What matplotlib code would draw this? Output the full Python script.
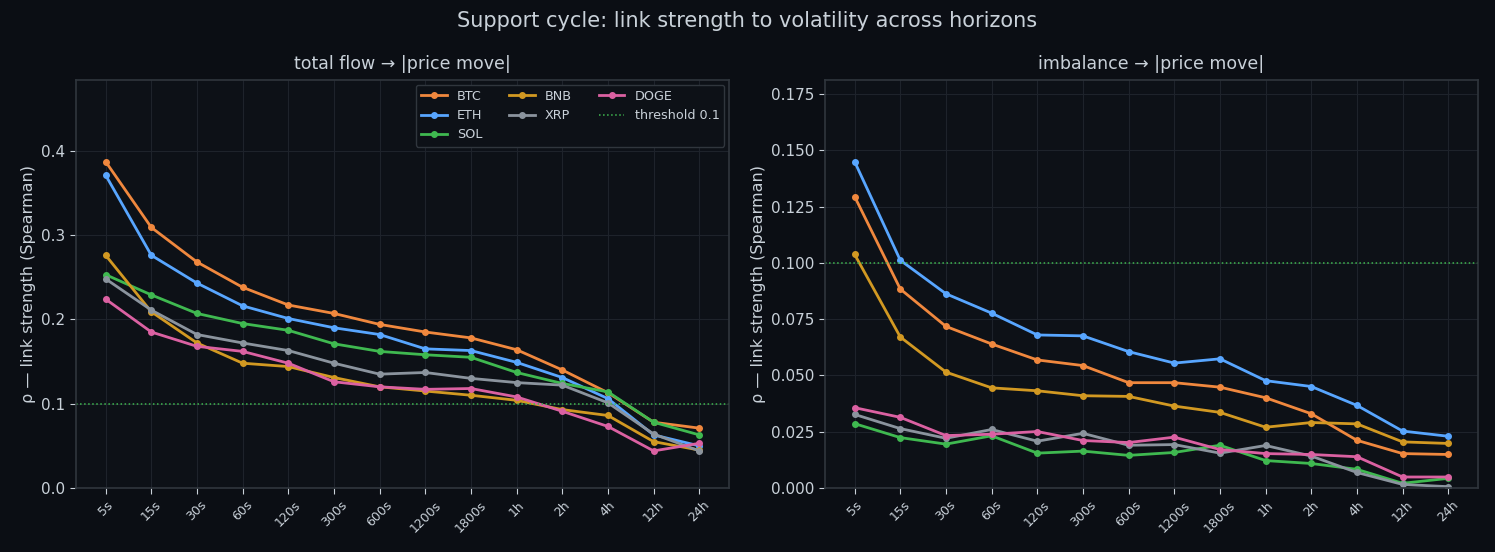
import matplotlib
matplotlib.use("Agg")
import matplotlib.pyplot as plt

horizons = ["5s", "15s", "30s", "60s", "120s", "300s", "600s", "1200s", "1800s", "1h", "2h", "4h", "12h", "24h"]
coins = ["BTC", "ETH", "SOL", "BNB", "XRP", "DOGE"]
colors = {"BTC": "#f0883e", "ETH": "#58a6ff", "SOL": "#3fb950", "BNB": "#d29922", "XRP": "#8b949e", "DOGE": "#db61a2"}

flow_btc = [0.387, 0.309, 0.268, 0.238, 0.217, 0.207, 0.194, 0.185, 0.178, 0.164, 0.140, 0.113, 0.078, 0.071]
flow_eth = [0.371, 0.276, 0.243, 0.216, 0.201, 0.190, 0.182, 0.165, 0.163, 0.149, 0.131, 0.106, 0.063, 0.050]
flow_sol = [0.253, 0.229, 0.207, 0.195, 0.187, 0.171, 0.162, 0.158, 0.155, 0.137, 0.124, 0.114, 0.078, 0.063]
flow_bnb = [0.276, 0.209, 0.172, 0.148, 0.144, 0.131, 0.120, 0.115, 0.110, 0.104, 0.093, 0.086, 0.055, 0.045]
flow_xrp = [0.248, 0.211, 0.182, 0.172, 0.163, 0.148, 0.135, 0.137, 0.130, 0.125, 0.122, 0.101, 0.064, 0.044]
flow_doge = [0.224, 0.185, 0.168, 0.162, 0.148, 0.126, 0.120, 0.117, 0.118, 0.108, 0.091, 0.073, 0.044, 0.053]

imb_btc = [0.1295, 0.0884, 0.0718, 0.0640, 0.0569, 0.0544, 0.0468, 0.0468, 0.0448, 0.0401, 0.0330, 0.0212, 0.0153, 0.0149]
imb_eth = [0.1450, 0.1012, 0.0863, 0.0777, 0.0680, 0.0676, 0.0606, 0.0555, 0.0574, 0.0477, 0.0451, 0.0367, 0.0253, 0.0230]
imb_sol = [0.0286, 0.0224, 0.0195, 0.0232, 0.0155, 0.0164, 0.0145, 0.0158, 0.0190, 0.0122, 0.0109, 0.0083, 0.0021, 0.0043]
imb_bnb = [0.1038, 0.0671, 0.0515, 0.0445, 0.0432, 0.0410, 0.0407, 0.0364, 0.0336, 0.0270, 0.0291, 0.0285, 0.0205, 0.0198]
imb_xrp = [0.0327, 0.0264, 0.0221, 0.0260, 0.0208, 0.0243, 0.0190, 0.0193, 0.0155, 0.0189, 0.0142, 0.0069, 0.0016, 0.0006]
imb_doge = [0.0357, 0.0314, 0.0233, 0.0239, 0.0251, 0.0211, 0.0202, 0.0226, 0.0171, 0.0153, 0.0149, 0.0139, 0.0049, 0.0049]

threshold = 0.1

flow = {"BTC": flow_btc, "ETH": flow_eth, "SOL": flow_sol, "BNB": flow_bnb, "XRP": flow_xrp, "DOGE": flow_doge}
imb = {"BTC": imb_btc, "ETH": imb_eth, "SOL": imb_sol, "BNB": imb_bnb, "XRP": imb_xrp, "DOGE": imb_doge}

BG = "#0b0e14"
AX_BG = "#0d1117"
TXT = "#c9d1d9"
GRID = "#1e232b"
SPINE = "#30363d"

fig = plt.figure(figsize=(14.95, 5.52), dpi=100, facecolor=BG)
ax1 = fig.add_axes([0.0508, 0.1159, 0.4368, 0.7391])
ax2 = fig.add_axes([0.5518, 0.1159, 0.4368, 0.7391])

x = list(range(len(horizons)))
for ax, data, title in [(ax1, flow, "total flow → |price move|"), (ax2, imb, "imbalance → |price move|")]:
    ax.set_facecolor(AX_BG)
    for c in coins:
        ax.plot(x, data[c], color=colors[c], lw=2, marker="o", ms=4, label=c)
    ax.axhline(threshold, color="#3fb950", ls=":", lw=1.1, label="threshold 0.1")
    ymax = max(max(v) for v in data.values())
    ax.set_ylim(0, ymax * 1.25)
    ax.set_xticks(x)
    ax.set_xticklabels(horizons, rotation=45, fontsize=9, color=TXT)
    ax.tick_params(axis="y", labelsize=11, colors=TXT)
    ax.tick_params(axis="x", colors=TXT)
    ax.tick_params(color=TXT, length=4)
    ax.grid(True, color=GRID, lw=0.8)
    ax.set_axisbelow(True)
    for s in ax.spines.values():
        s.set_color(SPINE)
        s.set_linewidth(1.2)
    ax.set_title(title, color=TXT, fontsize=12.5, pad=8)
    ax.set_ylabel("ρ — link strength (Spearman)", color=TXT, fontsize=11.5)

leg = ax1.legend(ncol=3, fontsize=9.2, loc="upper right", facecolor=AX_BG, edgecolor=SPINE,
                 labelcolor=TXT, framealpha=1, borderaxespad=0.35, columnspacing=2.1)
fig.suptitle("Support cycle: link strength to volatility across horizons", color=TXT, fontsize=15, y=0.98)

fig.savefig("out.png", dpi=100, facecolor=BG)
